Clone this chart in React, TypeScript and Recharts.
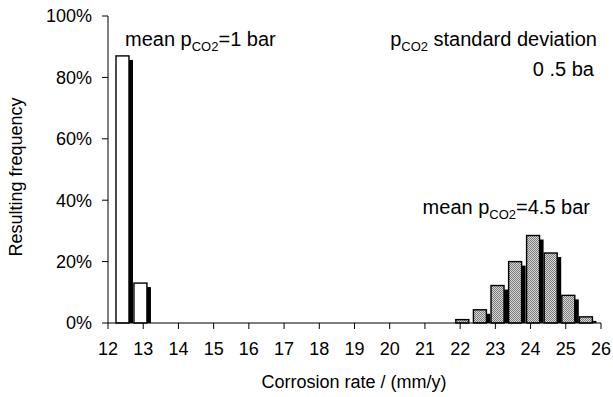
import React from 'react';
import { BarChart, Bar, XAxis, YAxis, Customized } from 'recharts';

// Histogram bins (corrosion rate, mm/y) and resulting frequencies (%)
const lowRates = [12.42, 12.93];
const lowFreq = [87, 13];
const highRates = [22.07, 22.57, 23.07, 23.57, 24.08, 24.58, 25.08, 25.58];
const highFreq = [1.1, 4.3, 12.2, 20.0, 28.5, 22.8, 9.0, 2.0];

const xTicks = [12, 13, 14, 15, 16, 17, 18, 19, 20, 21, 22, 23, 24, 25, 26];
const yTicks = [0, 20, 40, 60, 80, 100];

const data = [
  ...lowRates.map((rate, i) => ({ rate, freq: lowFreq[i], group: 'low' })),
  ...highRates.map((rate, i) => ({ rate, freq: highFreq[i], group: 'high' })),
];

const FONT = '"Liberation Sans", Arial, sans-serif';

// Column with a solid drop shadow to the lower right
const ShadowBar = (props: any) => {
  const { x, y, width, height, payload } = props;
  if (!height || height <= 0) return null;
  const off = 4;
  const sh = Math.max(height - off, 0);
  return (
    <g>
      {sh > 0 && <rect x={x + off} y={y + off} width={width} height={sh} fill="#000" />}
      <rect
        x={x}
        y={y}
        width={width}
        height={height}
        fill={payload.group === 'low' ? '#fff' : 'url(#dither)'}
        stroke="#000"
        strokeWidth={1.4}
      />
    </g>
  );
};

const Annotations = () => (
  <g fontFamily={FONT} fill="#000">
    <defs>
      <pattern id="dither" width="2" height="2" patternUnits="userSpaceOnUse">
        <rect x="0" y="0" width="2" height="2" fill="#d8d8d8" />
        <rect x="0" y="0" width="1" height="1" fill="#7a7a7a" />
        <rect x="1" y="1" width="1" height="1" fill="#7a7a7a" />
      </pattern>
    </defs>
    <text x={125} y={46} fontSize={20}>
      <tspan>mean p</tspan>
      <tspan dy={5} fontSize={13}>CO2</tspan>
      <tspan dy={-5}>=1 bar</tspan>
    </text>
    <text x={597} y={46} fontSize={20} textAnchor="end">
      <tspan>p</tspan>
      <tspan dy={5} fontSize={13}>CO2</tspan>
      <tspan dy={-5}> standard deviation</tspan>
    </text>
    <text x={594} y={76} fontSize={20} textAnchor="end">0 .5 ba</text>
    <text x={590} y={214} fontSize={20} textAnchor="end">
      <tspan>mean p</tspan>
      <tspan dy={5} fontSize={13}>CO2</tspan>
      <tspan dy={-5}>=4.5 bar</tspan>
    </text>
    <text x={354} y={388} fontSize={18} textAnchor="middle">Corrosion rate / (mm/y)</text>
    <text x={22} y={177} fontSize={18} textAnchor="middle" transform="rotate(-90 22 177)">
      Resulting frequency
    </text>
  </g>
);

export default function App() {
  return (
    <div style={{ position: 'absolute', left: 0, top: 0, background: '#fff' }}>
      <BarChart
        width={613}
        height={397}
        data={data}
        margin={{ top: 16, right: 12, bottom: 0, left: 0 }}
        barSize={13}
      >
        <XAxis
          dataKey="rate"
          type="number"
          domain={[12, 26]}
          ticks={xTicks}
          interval={0}
          allowDataOverflow
          height={74}
          tickSize={6}
          tickMargin={13}
          axisLine={{ stroke: '#000' }}
          tickLine={{ stroke: '#000' }}
          tick={{ fill: '#000', fontSize: 18, fontFamily: FONT }}
        />
        <XAxis
          xAxisId="top"
          orientation="top"
          type="number"
          domain={[12, 26]}
          height={0}
          tick={false}
          tickLine={false}
          axisLine={{ stroke: '#444' }}
        />
        <YAxis
          type="number"
          domain={[0, 100]}
          ticks={yTicks}
          interval={0}
          width={108}
          tickSize={6}
          tickMargin={10}
          tickFormatter={(v: number) => `${v}%`}
          axisLine={{ stroke: '#000' }}
          tickLine={{ stroke: '#000' }}
          tick={{ fill: '#000', fontSize: 18, fontFamily: FONT }}
        />
        <YAxis
          yAxisId="right"
          orientation="right"
          width={0}
          tick={false}
          tickLine={false}
          axisLine={{ stroke: '#555' }}
        />
        <Bar dataKey="freq" shape={ShadowBar} isAnimationActive={false} />
        <Customized component={Annotations} />
      </BarChart>
    </div>
  );
}
